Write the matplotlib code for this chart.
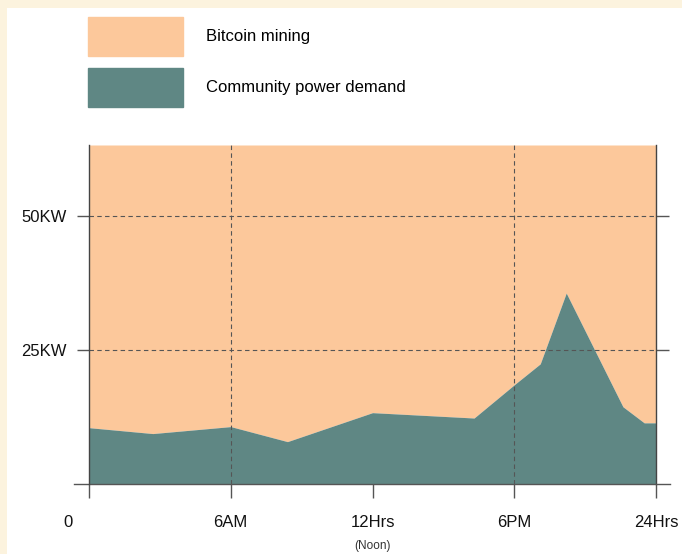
import matplotlib.pyplot as plt
from matplotlib.patches import Patch, Rectangle
from matplotlib.transforms import ScaledTranslation

plt.rcParams['font.family'] = ['Liberation Sans', 'DejaVu Sans']

# hourly power (KW)
hours = [0, 2.7, 6, 8.4, 12, 16.3, 18, 19.1, 20.2, 22.6, 23.5, 24]
demand = [10.5, 9.4, 10.7, 7.9, 13.3, 12.3, 18.5, 22.4, 35.6, 14.4, 11.4, 11.4]
capacity = 63.2
xticks = [0, 6, 12, 18, 24]
xlabels = ['0', '6AM', '12Hrs', '6PM', '24Hrs']
yticks = [25, 50]
ylabels = ['25KW', '50KW']
orange = '#FCC89B'
teal = '#5F8784'

fig = plt.figure(figsize=(6.82, 5.54), dpi=100)
fig.patch.set_facecolor('#FCF3DE')
# white panel inside the cream border
fig.add_artist(Rectangle((7 / 682, 0), 1, 1 - 8 / 554, transform=fig.transFigure,
                         facecolor='white', edgecolor='none', zorder=0))

ax = fig.add_axes([89 / 682, 70 / 554, 567 / 682, 339 / 554])
ax.set_facecolor('none')
ax.fill_between(hours, demand, capacity, color=orange, lw=0, zorder=1)
ax.fill_between(hours, 0, demand, color=teal, lw=0, zorder=2)

for y in yticks:
    ax.axhline(y, color='#555555', lw=0.8, ls=(0, (4, 3)), zorder=3)
for x in [6, 18]:
    ax.axvline(x, color='#555555', lw=0.8, ls=(0, (4, 3)), zorder=3)

ax.set_xlim(0, 24)
ax.set_ylim(0, capacity)

for s in ['top', 'bottom']:
    ax.spines[s].set_visible(False)
for s in ['left', 'right']:
    ax.spines[s].set_color('#444444')
    ax.spines[s].set_linewidth(1)
ax.spines['left'].set_zorder(4)
# long base line below the plot
ax.axhline(0, xmin=-0.027, xmax=1.025, color='#555555', lw=1, clip_on=False, zorder=4)

ax.set_xticks(xticks)
ax.set_xticklabels(xlabels, fontsize=12)
ax.tick_params(axis='x', direction='out', length=10, width=1, color='#555555', pad=12)
ax.set_yticks(yticks)
ax.set_yticklabels(ylabels, fontsize=12)
ax.tick_params(axis='y', direction='out', length=9, width=1, color='#555555', pad=7,
               right=True)
for lab in ax.get_xticklabels() + ax.get_yticklabels():
    lab.set_color('#111111')

# "0" sits to the left of its tick
lab0 = ax.get_xticklabels()[0]
lab0.set_transform(lab0.get_transform() + ScaledTranslation(-0.21, 0, fig.dpi_scale_trans))

ax.annotate('(Noon)', xy=(12, 0), xycoords='data', xytext=(0, -40),
            textcoords='offset points', ha='center', va='top', fontsize=8.5,
            color='#333333', annotation_clip=False)

handles = [Patch(color=orange, label='Bitcoin mining'),
           Patch(color=teal, label='Community power demand')]
fig.legend(handles=handles, loc='upper left', bbox_to_anchor=(88 / 682, 1 - 17 / 554),
           frameon=False, fontsize=12, handlelength=5.7, handleheight=3.2,
           labelspacing=0.75, handletextpad=1.4, borderpad=0, borderaxespad=0)

fig.savefig('out.png', dpi=100, facecolor=fig.get_facecolor())
